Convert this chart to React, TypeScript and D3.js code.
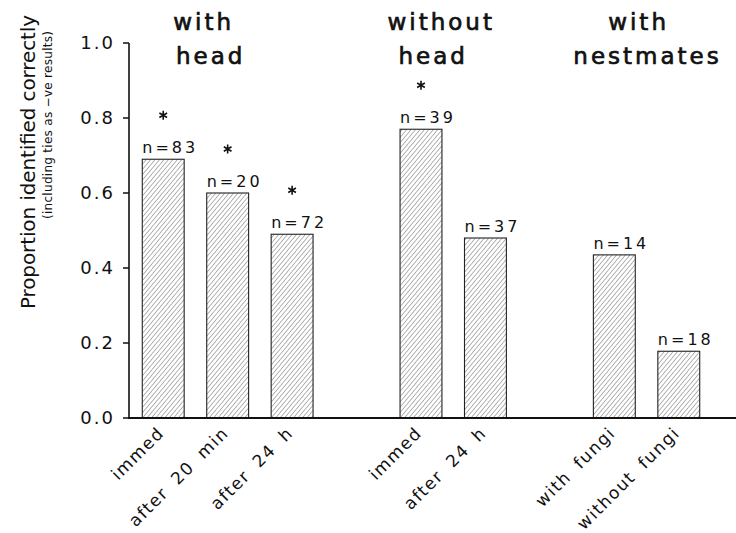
import React from 'react';
import * as d3 from 'd3';

// bar categories, in drawing order
const categories = ['immed', 'after 20 min', 'after 24 h', 'immed', 'after 24 h', 'with fungi', 'without fungi'];
const groupOf = [0, 0, 0, 1, 1, 2, 2];
const proportions = [0.69, 0.6, 0.49, 0.77, 0.48, 0.435, 0.178];
const sampleSizes = [83, 20, 72, 39, 37, 14, 18];
const significant = [true, true, true, true, false, false, false];

const groupTitles = [['with', 'head'], ['without', 'head'], ['with', 'nestmates']];
const yTicks = [0, 0.2, 0.4, 0.6, 0.8, 1.0];

const W = 736;
const H = 533;
const axisX = 129;
const baseY = 418;
const topY = 43;
const font = 'DejaVu Sans, Verdana, sans-serif';

// where each title line sits relative to its group centre (hand placed in the original)
const titleDx = [[-24, -17], [-12, -20], [-8, 1]];

export default function App() {
  // a slot for every bar plus one empty slot between groups
  const slots = categories.map((_, i) => i + groupOf[i]);
  const x = d3.scaleBand<number>()
    .domain(d3.range(9))
    .range([131, 711])
    .paddingInner(0.35)
    .paddingOuter(0.175);
  const y = d3.scaleLinear().domain([0, 1]).range([baseY, topY]);
  const star = d3.symbol().type(d3.symbolAsterisk).size(55)();

  const groupCenters = groupTitles.map((_, g) => {
    const xs = slots.filter((_, i) => groupOf[i] === g).map(s => x(s)! + x.bandwidth() / 2);
    return d3.mean(xs)!;
  });

  return (
    <svg width={W} height={H} style={{ position: 'absolute', left: 0, top: 0, background: 'white' }}>
      <defs>
        <pattern id="hatch" width="3.4" height="3.4" patternUnits="userSpaceOnUse" patternTransform="rotate(40)">
          <line x1="0" y1="0" x2="0" y2="3.4" stroke="#444" strokeWidth="0.8" />
        </pattern>
      </defs>

      {/* bars */}
      {proportions.map((v, i) => {
        const bx = x(slots[i])!;
        return (
          <rect key={'b' + i} x={bx} y={y(v)} width={x.bandwidth()} height={baseY - y(v)}
            fill="url(#hatch)" stroke="#222" strokeWidth={1.1} />
        );
      })}

      {/* n labels */}
      {sampleSizes.map((n, i) => (
        <text key={'n' + i} x={x(slots[i])!} y={y(proportions[i]) - 6} fontFamily={font} fontSize={16}
          letterSpacing={3} fill="#111">{`n=${n}`}</text>
      ))}

      {/* significance asterisks */}
      {significant.map((s, i) => s ? (
        <path key={'s' + i} d={star!} fill="none" stroke="#111" strokeWidth={1.6}
          transform={`translate(${x(slots[i])! + x.bandwidth() / 2},${y(proportions[i]) - 44})`} />
      ) : null)}

      {/* axes */}
      <line x1={axisX} x2={axisX} y1={topY} y2={baseY} stroke="#111" strokeWidth={1.6} />
      <line x1={axisX - 1} x2={W} y1={baseY} y2={baseY} stroke="#111" strokeWidth={2} />
      {yTicks.map(t => (
        <g key={'t' + t} transform={`translate(0,${y(t)})`}>
          <line x1={axisX - 6} x2={axisX} stroke="#111" strokeWidth={1.5} />
          <text x={115} dy="0.36em" textAnchor="end" fontFamily={font} fontSize={18}
            letterSpacing={2} fill="#111">{t.toFixed(1)}</text>
        </g>
      ))}

      {/* category labels */}
      {categories.map((c, i) => (
        <text key={'c' + i} textAnchor="end" fontFamily={font} fontSize={17} letterSpacing={1.5}
          wordSpacing={5} fill="#111"
          transform={`translate(${x(slots[i])! + x.bandwidth() / 2 + 2},${baseY + 16}) rotate(-45)`}>{c}</text>
      ))}

      {/* group titles */}
      {groupTitles.map((lines, g) => lines.map((l, k) => (
        <text key={'g' + g + k} x={groupCenters[g] + titleDx[g][k]} y={30 + k * 34} textAnchor="middle"
          fontFamily={font} fontSize={23} letterSpacing={3} fill="#111" stroke="#111" strokeWidth={0.7}>{l}</text>
      )))}

      {/* y axis titles */}
      <text transform="translate(35,162) rotate(-90)" textAnchor="middle" fontFamily={font} fontSize={20}
        textLength={294} lengthAdjust="spacing" fill="#111">Proportion identified correctly</text>
      <text transform="translate(52,125) rotate(-90)" textAnchor="middle" fontFamily={font} fontSize={12}
        textLength={188} lengthAdjust="spacing" fill="#111">(including ties as −ve results)</text>
    </svg>
  );
}
